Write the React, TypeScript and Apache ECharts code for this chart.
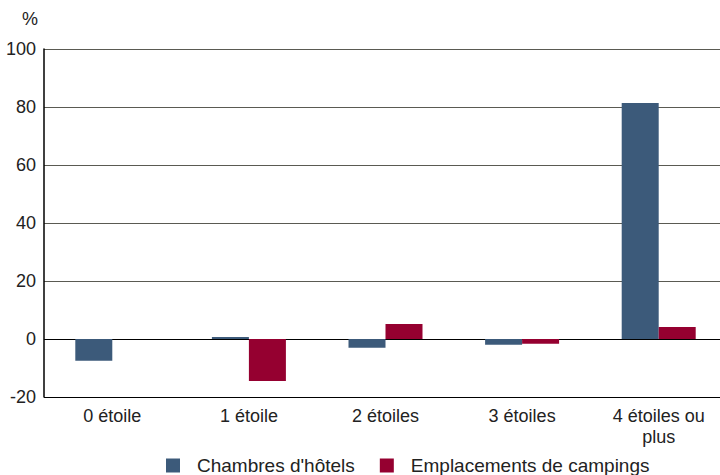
import React, { useEffect, useRef } from "react";
import * as echarts from "echarts";

const categories = ["0 étoile", "1 étoile", "2 étoiles", "3 étoiles", "4 étoiles ou\nplus"];
const hotels = [-7.5, 0.7, -3.0, -2.0, 81.4];
const campings = [0, -14.5, 5.2, -1.6, 4.1];
const seriesNames = ["Chambres d'hôtels", "Emplacements de campings"];
const yTicks = { min: -20, max: 100, interval: 20 };

export default function App() {
  const ref = useRef<HTMLDivElement>(null);
  useEffect(() => {
    if (!ref.current) return;
    const chart = echarts.init(ref.current, null, { renderer: "svg" });
    const font = "Arial, 'Liberation Sans', sans-serif";
    chart.setOption({
      animation: false,
      textStyle: { fontFamily: font },
      grid: { left: 44, right: 0, top: 49, bottom: 78, containLabel: false },
      graphic: [
        { type: "text", left: 22, top: 10, style: { text: "%", font: `18px ${font}`, fill: "#222" } },
      ],
      legend: {
        bottom: -5,
        left: 161,
        icon: "rect",
        itemWidth: 14,
        itemHeight: 14,
        itemGap: 25,
        textStyle: { fontSize: 19, color: "#222", fontFamily: font, padding: [0, 0, 0, 12] },
        data: seriesNames,
      },
      xAxis: {
        type: "category",
        data: categories,
        axisLine: { show: false },
        axisTick: { show: false },
        axisLabel: { fontSize: 18, color: "#222", fontFamily: font, margin: 8, lineHeight: 21, interval: 0 },
      },
      yAxis: {
        type: "value",
        min: yTicks.min,
        max: yTicks.max,
        interval: yTicks.interval,
        axisLine: { show: true, lineStyle: { color: "#000", width: 1.5 } },
        axisTick: { show: false },
        axisLabel: { fontSize: 18, color: "#222", fontFamily: font, margin: 8 },
        splitLine: {
          show: true,
          lineStyle: { color: ["#000", "#000", "#5a5a52", "#5a5a52", "#5a5a52", "#5a5a52", "#5a5a52"], width: 1 },
        },
      },
      series: [
        {
          name: seriesNames[0],
          type: "bar",
          data: hotels,
          barWidth: 37,
          barGap: "0%",
          itemStyle: { color: "#3c5a7a" },
        },
        {
          name: seriesNames[1],
          type: "bar",
          data: campings,
          barWidth: 37,
          barGap: "0%",
          itemStyle: { color: "#950030" },
        },
      ],
    });
    return () => chart.dispose();
  }, []);
  return (
    <div style={{ width: 720, height: 475, position: "absolute", left: 0, top: 0, overflow: "hidden" }}>
      <div ref={ref} style={{ width: 727, height: 475 }} />
    </div>
  );
}
